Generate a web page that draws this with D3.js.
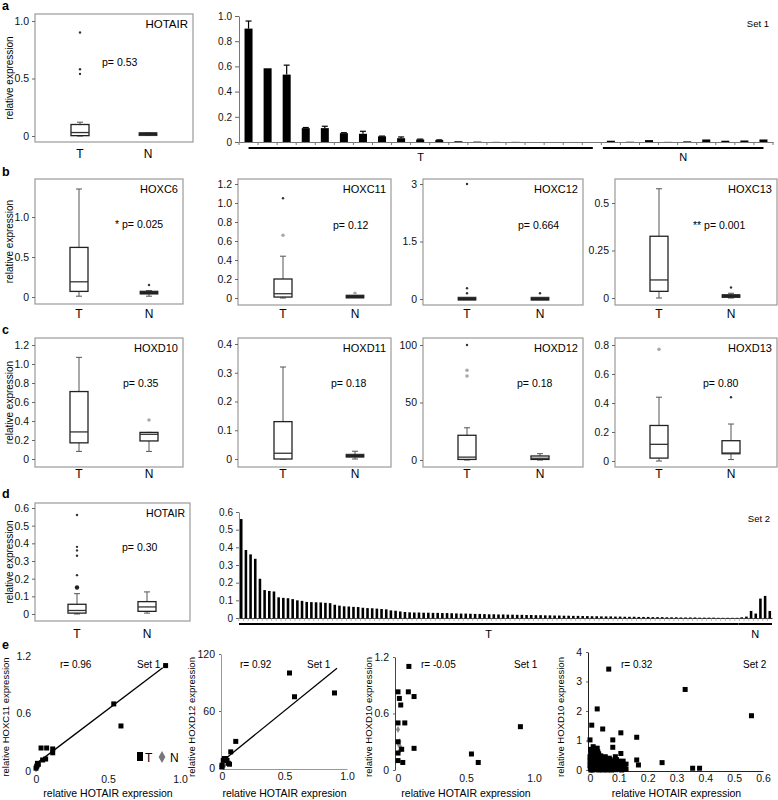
<!DOCTYPE html>
<html><head><meta charset="utf-8">
<script src="https://cdn.jsdelivr.net/npm/d3@7"></script>
<style>body{margin:0;background:#fff}svg{display:block}</style>
</head><body>
<svg id="c" width="778" height="800"></svg>
<script>
// ================= DATA =================
const groups = ["T", "N"];
const boxGenes = ["HOTAIR","HOXC6","HOXC11","HOXC12","HOXC13","HOXD10","HOXD11","HOXD12","HOXD13","HOTAIR"];
const boxP = ["p= 0.53","* p= 0.025","p= 0.12","p= 0.664","** p= 0.001","p= 0.35","p= 0.18","p= 0.18","p= 0.80","p= 0.30"];
// [min, q1, median, q3, max]
const boxStatsT = [[0,0.003,0.03,0.1,0.12],[0.01,0.07,0.19,0.62,1.35],[0,0.01,0.045,0.2,0.44],[0,0.003,0.008,0.014,0.02],[0,0.035,0.095,0.325,0.575],[0.08,0.17,0.285,0.71,1.07],[0,0,0.02,0.13,0.32],[0,0.5,2.5,21.5,28],[0,0.02,0.115,0.245,0.44],[0,0.005,0.02,0.055,0.115]];
const boxStatsN = [[0.008,0.012,0.015,0.02,0.025],[0.01,0.04,0.05,0.07,0.08],[0.005,0.01,0.015,0.02,0.025],[0,0.003,0.008,0.012,0.016],[0,0.005,0.01,0.015,0.025],[0.08,0.19,0.26,0.28,0.28],[0,0.008,0.012,0.015,0.027],[0,0.5,1.5,3.5,5.5],[0.01,0.05,0.055,0.14,0.255],[0.005,0.015,0.04,0.07,0.125]];
// outliers: [value, type]  "*" extreme, "o" mild
const outliersT = [[[0.9,"*"],[0.58,"*"],[0.54,"*"]],[],[[0.66,"o"],[1.05,"*"]],[[3,"*"],[0.28,"*"],[0.15,"*"]],[],[],[],[[100,"*"],[78,"o"],[73,"o"]],[[0.77,"o"]],[[0.56,"*"],[0.38,"*"],[0.36,"*"],[0.33,"*"],[0.22,"*"],[0.15,"O"]]];
const outliersN = [[],[[0.15,"*"]],[[0.05,"o"]],[[0.15,"*"]],[[0.055,"*"]],[[0.41,"o"]],[],[],[[0.44,"*"]],[]];
const boxTicks = [[0,0.5,1],[0,0.5,1],[0,0.2,0.4,0.6,0.8,1,1.2],[0,1.5,3],[0,0.25,0.5],[0,0.2,0.4,0.6,0.8,1,1.2],[0,0.1,0.2,0.3,0.4],[0,50,100],[0,0.2,0.4,0.6,0.8],[0,0.1,0.2,0.3,0.4,0.5,0.6]];
const boxTickLabels = [["0","0.5","1.0"],["0","0.5","1.0"],["0","0.2","0.4","0.6","0.8","1.0","1.2"],["0","1.5","3"],["0","0.25","0.5"],["0","0.2","0.4","0.6","0.8","1.0","1.2"],["0","0.1","0.2","0.3","0.4"],["0","50","100"],["0","0.2","0.4","0.6","0.8"],["0","0.1","0.2","0.3","0.4","0.5","0.6"]];

// Set 1 bar chart (panel a)
const set1T = [0.9,0.585,0.535,0.11,0.11,0.07,0.065,0.045,0.03,0.02,0.015,0.006,0.003,0.001,0.001,0,0,0,0];
const set1TErr = [0.06,0,0.075,0.005,0.015,0.004,0.02,0.002,0.01,0.003,0.002,0,0,0,0,0,0,0,0];
const set1N = [0.01,0.002,0.015,0.001,0.005,0.02,0.01,0.012,0.02];
const set1Ticks = [0,0.2,0.4,0.6,0.8,1.0];
const set1TickLabels = ["0","0.2","0.4","0.6","0.8","1.0"];

// Set 2 bar chart (panel d)
const set2T = [0.56,0.385,0.36,0.335,0.222,0.158,0.153,0.15,0.117,0.114,0.112,0.107,0.1,0.097,0.091,0.09,0.089,0.088,0.086,0.084,0.075,0.07,0.066,0.065,0.063,0.062,0.058,0.056,0.055,0.053,0.051,0.049,0.043,0.041,0.037,0.034,
0.032,0.031,0.031,0.03,0.03,0.029,0.029,0.028,0.028,0.027,0.026,0.025,
0.025,0.024,0.023,0.023,0.022,0.021,0.021,0.02,0.02,0.019,0.019,0.018,
0.018,0.017,0.017,0.016,0.016,0.015,0.015,0.014,0.014,0.013,0.013,0.012,0.012,0.011,0.011,
0.01,0.01,0.009,0.009,0.009,0.008,0.008,0.007,0.007,0.007,0.006,0.006,0.006,0.005,0.005,
0.005,0.004,0.004,0.004,0.003,0.003,0.003,0.003,0.002,0.002,
0.002,0.002,0.001,0.001,0.001,0.001,0.001];
const set2N = [0.004,0.008,0.04,0.025,0.11,0.125,0.04];
const set2Ticks = [0,0.1,0.2,0.3,0.4,0.5,0.6];

// Scatter panels (e)
const sc1Tx = [0.9,0.54,0.59,0.035,0.074,0.116,0.116,0.067,0.046,0.016,0.005,0,0.01];
const sc1Ty = [1.10,0.70,0.47,0.24,0.24,0.23,0.19,0.125,0.115,0.07,0.05,0.03,0.08];
const sc1Nx = [0.01,0.02,0,0.015,0.005];
const sc1Ny = [0.04,0.06,0.02,0.05,0.03];
const sc2Tx = [0.9,0.58,0.54,0.11,0.07,0.06,0,0.01,0.02,0.03,0.04,0.05,0.0];
const sc2Ty = [79,75,100,28,17,4,3,8,10,10,8,5,1];
const sc2Nx = [0.01,0.02];
const sc2Ny = [2,3];
const sc3Tx = [0.08,0.0,0.076,0.01,0.118,0.02,0.0,0.05,0.9,0.0,0.118,0.027,0.54,0.59,0.0,0.035,0.0];
const sc3Ty = [1.10,0.83,0.83,0.76,0.78,0.69,0.50,0.50,0.46,0.30,0.23,0.22,0.17,0.08,0.10,0.08,0.18];
const sc3Nx = [0.0,0.01,0.015,0.005,0.02,0.01];
const sc3Ny = [0.43,0.3,0.25,0.27,0.22,0.2];
const sc4x = [0.065,0.33,0.56,0.025,0.006,0.044,0,0.107,0.079,0.162,0.079,0.107,0.011,0.025,0.162,0.168,0.25,0.356,0.38,
0.002,0.004,0.006,0.003,0.008,0.01,0.005,0.002,0.001,0.012,0.015,0.018,0.02,0.022,0.014,0.025,0.028,0.03,0.032,0.035,0.038,0.04,0.042,0.045,0.048,0.05,0.052,0.055,0.058,0.06,0.062,0.065,0.068,0.07,0.072,0.075,0.078,0.08,0.083,0.085,0.088,0.09,0.092,0.095,0.098,0.1,0.102,0.105,0.11,0.112,0.115,0.12,0.125,0.008,0.016,0.02,0,0,0,0.003,0.01,0.02,0.03,0.045,0.06,0.075,0.09,0.11,0.125,0.013,0.027,0.037,0.053,0.067];
const sc4y = [3.42,2.73,1.84,2.07,1.52,1.39,1.02,1.26,1.02,1.11,0.77,0.56,0.79,0.74,0.34,0.17,0.25,0.06,0.06,
0.7,0.6,0.5,0.42,0.35,0.28,0.2,0.12,0.05,0.6,0.45,0.3,0.15,0.05,0.1,0.4,0.25,0.55,0.1,0.35,0.2,0.05,0.42,0.3,0.15,0.38,0.22,0.08,0.3,0.18,0.05,0.28,0.12,0.35,0.06,0.2,0.1,0.3,0.15,0.05,0.45,0.25,0.35,0.1,0.2,0.3,0.05,0.18,0.25,0.1,0.3,0.15,0.2,0.65,0.72,0.55,0.3,0.15,0.45,0,0,0.02,0,0,0,0,0.01,0,0.02,0.25,0.62,0.48,0.45,0.4];

// ================= DRAWING =================
const FONT = '"Liberation Sans", Arial, Helvetica, sans-serif';
const svg = d3.select("#c");
function txt(g, x, y, s, size, anchor, extra){
  const t = g.append("text").attr("x", x).attr("y", y).text(s)
    .attr("font-family", FONT).attr("font-size", size).attr("fill", "#000")
    .attr("text-anchor", anchor || "start");
  if (extra) extra(t);
  return t;
}
function styleAxis(axg, size){
  axg.attr("font-family", FONT);
  axg.selectAll("text").attr("font-family", FONT).attr("font-size", size || 10.5).attr("fill", "#111");
  axg.selectAll(".tick line").attr("stroke", "#666");
}

// Panel letters
[["a",10],["b",176],["c",334],["d",498],["e",649]].forEach(([l,y]) =>
  txt(svg, 2, y, l, 12.5, "start", t => t.attr("font-weight","bold")));

// ---- Box plots ----
const boxLayout = [
  {x0:35,x1:193,y0:14,y1:142, z:136, top:21,  tx:80, nx:148, px:102, py:66,  lab:158, ylab:true, gs:11.5},
  {x0:35,x1:183,y0:179,y1:304,z:297, top:217, tx:79, nx:149, px:115, py:228, lab:318, ylab:true, gs:11},
  {x0:238,x1:391,y0:179,y1:305,z:298,top:184, tx:283,nx:355, px:333, py:229, lab:318, gs:11},
  {x0:423,x1:583,y0:179,y1:305,z:299,top:184, tx:467,nx:540, px:518, py:229, lab:318, gs:11},
  {x0:615,x1:777,y0:179,y1:305,z:298,top:203, tx:659,nx:731, px:693, py:229, lab:318, gs:11},
  {x0:35,x1:183,y0:338,y1:467,z:459, top:345, tx:79, nx:149, px:123, py:387, lab:478, ylab:true, gs:11},
  {x0:238,x1:391,y0:338,y1:467,z:459,top:344, tx:283,nx:355, px:331, py:387, lab:478, gs:11},
  {x0:423,x1:583,y0:338,y1:467,z:460,top:345, tx:467,nx:540, px:517, py:387, lab:478, gs:11},
  {x0:615,x1:777,y0:338,y1:467,z:461,top:345, tx:659,nx:731, px:703, py:387, lab:478, gs:11},
  {x0:35,x1:190,y0:503,y1:621,z:614, top:508, tx:77, nx:147, px:122, py:551, lab:638, ylab:true, gs:10.5}
];

function drawBox(g, cx, s, y, bw){
  const [mn,q1,md,q3,mx] = s;
  const cap = 3;
  g.append("line").attr("x1",cx).attr("x2",cx).attr("y1",y(q3)).attr("y2",y(mx)).attr("stroke","#555").attr("stroke-width",1);
  g.append("line").attr("x1",cx).attr("x2",cx).attr("y1",y(q1)).attr("y2",y(mn)).attr("stroke","#555").attr("stroke-width",1);
  g.append("line").attr("x1",cx-cap).attr("x2",cx+cap).attr("y1",y(mx)).attr("y2",y(mx)).attr("stroke","#555");
  g.append("line").attr("x1",cx-cap).attr("x2",cx+cap).attr("y1",y(mn)).attr("y2",y(mn)).attr("stroke","#555");
  const h = y(q1) - y(q3);
  if (h < 3) {
    g.append("rect").attr("x",cx-bw/2).attr("y",(y(q1)+y(q3))/2-1.5).attr("width",bw).attr("height",3)
      .attr("fill","#222").attr("stroke","#222").attr("stroke-width",0.8);
  } else {
    g.append("rect").attr("x",cx-bw/2).attr("y",y(q3)).attr("width",bw).attr("height",h)
      .attr("fill","#fff").attr("stroke","#222").attr("stroke-width",1.3);
    g.append("line").attr("x1",cx-bw/2).attr("x2",cx+bw/2).attr("y1",y(md)).attr("y2",y(md))
      .attr("stroke","#333").attr("stroke-width",1.3);
  }
}
function drawOutliers(g, cx, list, y){
  list.forEach(([v,t]) => {
    if (t === "o") g.append("circle").attr("cx",cx).attr("cy",y(v)).attr("r",1.8).attr("fill","#aaa");
    else if (t === "O") g.append("circle").attr("cx",cx).attr("cy",y(v)).attr("r",2.2).attr("fill","#222");
    else g.append("circle").attr("cx",cx).attr("cy",y(v)).attr("r",1.2).attr("fill","#333");
  });
}

boxLayout.forEach((L, i) => {
  const g = svg.append("g");
  const ticks = boxTicks[i];
  const y = d3.scaleLinear().domain([0, ticks[ticks.length-1]]).range([L.z, L.top]);
  const x = d3.scalePoint().domain(groups).range([L.tx, L.nx]);
  g.append("rect").attr("x",L.x0).attr("y",L.y0).attr("width",L.x1-L.x0).attr("height",L.y1-L.y0)
    .attr("fill","none").attr("stroke","#9a9a9a").attr("stroke-width",1.2);
  const axg = g.append("g").attr("transform",`translate(${L.x0},0)`)
    .call(d3.axisLeft(y).tickValues(ticks).tickFormat((d,k)=>boxTickLabels[i][k]).tickSize(3).tickPadding(3));
  axg.select(".domain").remove();
  styleAxis(axg, 10.5);
  drawBox(g, x("T"), boxStatsT[i], y, 18);
  drawBox(g, x("N"), boxStatsN[i], y, 18);
  drawOutliers(g, x("T"), outliersT[i], y);
  drawOutliers(g, x("N"), outliersN[i], y);
  groups.forEach(c => txt(g, x(c), L.lab, c, 12, "middle"));
  txt(g, L.x1-5, L.y0+14, boxGenes[i], L.gs, "end");
  txt(g, L.px, L.py, boxP[i], 10.5, "start");
  if (L.ylab) {
    txt(g, 0, 0, "relative expression", 10, "middle",
      t => t.attr("transform",`translate(13,${(L.y0+L.y1)/2}) rotate(-90)`));
  }
});

// ---- Panel a bar chart (Set 1) ----
(function(){
  const g = svg.append("g");
  const ids = set1T.map((_,k)=>"T"+(k+1)).concat(set1N.map((_,k)=>"N"+(k+1)));
  const vals = set1T.concat(set1N);
  const errs = set1TErr.concat(set1N.map(()=>0));
  const x = d3.scaleBand().domain(ids).range([239,773]).paddingInner(0.58).paddingOuter(0.29);
  const y = d3.scaleLinear().domain([0,1]).range([142,16]);
  const axg = g.append("g").attr("transform","translate(239,0)")
    .call(d3.axisLeft(y).tickValues(set1Ticks).tickFormat((d,k)=>set1TickLabels[k]).tickSize(4).tickPadding(3).tickSizeOuter(0));
  axg.select(".domain").attr("stroke","#777");
  styleAxis(axg, 10);
  const xa = g.append("g").attr("transform","translate(0,142)")
    .call(d3.axisBottom(x).tickSize(0).tickFormat(""));
  xa.select(".domain").attr("stroke","#777");
  const step = x.step();
  ids.forEach((id,k) => {
    const bx = x(id) - step*x.paddingInner()/2 + step;
    g.append("line").attr("x1",bx).attr("x2",bx).attr("y1",142).attr("y2",145).attr("stroke","#777");
  });
  g.append("line").attr("x1",239).attr("x2",239).attr("y1",142).attr("y2",145).attr("stroke","#777");
  ids.forEach((id,k) => {
    const bw = x.bandwidth();
    const v = vals[k];
    g.append("rect").attr("x",x(id)).attr("y",y(v)).attr("width",bw).attr("height",y(0)-y(v)).attr("fill","#000");
    if (errs[k] > 0) {
      const cx = x(id)+bw/2;
      g.append("line").attr("x1",cx).attr("x2",cx).attr("y1",y(v)).attr("y2",y(v+errs[k])).attr("stroke","#000").attr("stroke-width",1.2);
      g.append("line").attr("x1",cx-3).attr("x2",cx+3).attr("y1",y(v+errs[k])).attr("y2",y(v+errs[k])).attr("stroke","#000").attr("stroke-width",1.2);
    }
  });
  const bw = x.bandwidth();
  const t0 = x("T1")+bw/2, t1 = x("T"+set1T.length)+bw/2+1;
  const n0 = x("N1")+bw/2-8, n1 = x("N"+set1N.length)+bw/2;
  g.append("line").attr("x1",t0).attr("x2",t1).attr("y1",148).attr("y2",148).attr("stroke","#000").attr("stroke-width",2);
  g.append("line").attr("x1",n0).attr("x2",n1).attr("y1",148).attr("y2",148).attr("stroke","#000").attr("stroke-width",2);
  txt(g, (t0+t1)/2, 161, "T", 11, "middle");
  txt(g, (n0+n1)/2, 161, "N", 11, "middle");
  txt(g, 769, 27, "Set 1", 9.5, "end");
})();

// ---- Panel d bar chart (Set 2) ----
(function(){
  const g = svg.append("g");
  const ids = set2T.map((_,k)=>"T"+(k+1)).concat(set2N.map((_,k)=>"N"+(k+1)));
  const vals = set2T.concat(set2N);
  const x = d3.scaleBand().domain(ids).range([239,772]).paddingInner(0.45).paddingOuter(0.2);
  const y = d3.scaleLinear().domain([0,0.6]).range([618,512]);
  const axg = g.append("g").attr("transform","translate(239,0)")
    .call(d3.axisLeft(y).tickValues(set2Ticks).tickFormat(d=>d===0?"0":d3.format(".1f")(d)).tickSize(3).tickPadding(3).tickSizeOuter(0));
  axg.select(".domain").attr("stroke","#888");
  styleAxis(axg, 10);
  const xa = g.append("g").attr("transform","translate(0,618)").call(d3.axisBottom(x).tickSize(0).tickFormat(""));
  xa.select(".domain").attr("stroke","#333");
  const step = x.step();
  ids.forEach((id,k) => {
    const bx = x(id) - step*x.paddingInner()/2;
    g.append("line").attr("x1",bx).attr("x2",bx).attr("y1",618).attr("y2",621).attr("stroke","#999").attr("stroke-width",0.7);
  });
  const bw = x.bandwidth();
  ids.forEach((id,k) => {
    g.append("rect").attr("x",x(id)).attr("y",y(vals[k])).attr("width",bw).attr("height",y(0)-y(vals[k])).attr("fill","#000");
  });
  const t0 = 239, t1 = x("T"+set2T.length)+bw;
  const n0 = x("N1")-2, n1 = 772;
  g.append("line").attr("x1",t0).attr("x2",t1).attr("y1",624).attr("y2",624).attr("stroke","#000").attr("stroke-width",2.2);
  g.append("line").attr("x1",n0).attr("x2",n1).attr("y1",624).attr("y2",624).attr("stroke","#000").attr("stroke-width",2.2);
  txt(g, (t0+t1)/2, 638, "T", 11, "middle");
  txt(g, (n0+n1)/2, 638, "N", 11, "middle");
  txt(g, 770, 522, "Set 2", 9.5, "end");
})();

// ---- Scatter plots (panel e) ----
const scLayout = [
  {xr:[36,180], xd:[0,1], yr:[771,656], yd:[0,1.2], yt:[0,0.6,1.2], ytl:["0","0.6","1.2"], xt:[0,0.5,1], xtl:["0","0.5","1.0"],
   yaxX:34, yDomain:false, xDomain:false, ylabX:9, ytitle:"relative HOXC11 expression", xtitle:"relative HOTAIR expression",
   r:"r= 0.96", rx:60, set:"Set 1", sx:137, line:[[0.02,0.098],[0.88,1.078]]},
  {xr:[222,347], xd:[0,1], yr:[768,654], yd:[0,120], yt:[0,60,120], ytl:["0","60","120"], xt:[0,0.5,1], xtl:["0","0.5","1.0"],
   yaxX:221, yDomain:"#999", xDomain:"#999", ylabX:195, ytitle:"relative HOXD12 expression", xtitle:"relative HOTAIR expresion",
   r:"r= 0.92", rx:240, set:"Set 1", sx:307, line:[[0.01,8],[0.92,105]]},
  {xr:[398,534], xd:[0,1], yr:[770,657], yd:[0,1.2], yt:[0,0.6,1.2], ytl:["0","0.6","1.2"], xt:[0,0.5,1], xtl:["0","0.5","1.0"],
   yaxX:395, yDomain:"#444", xDomain:false, ylabX:372, ytitle:"relative HOXD10 expression", xtitle:"relative HOTAIR expression",
   r:"r= -0.05", rx:421, set:"Set 1", sx:514},
  {xr:[590,763], xd:[0,0.6], yr:[770,652], yd:[0,4], yt:[0,1,2,3,4], ytl:["0","1","2","3","4"], xt:[0,0.1,0.2,0.3,0.4,0.5,0.6], xtl:["0","0.1","0.2","0.3","0.4","0.5","0.6"],
   yaxX:588, yDomain:"#222", xDomain:"#222", ylabX:564, ytitle:"relative HOXD10 expression", xtitle:"relative HOTAIR expression",
   r:"r= 0.32", rx:621, set:"Set 2", sx:743}
];
const scT = [[sc1Tx,sc1Ty],[sc2Tx,sc2Ty],[sc3Tx,sc3Ty],[sc4x,sc4y]];
const scN = [[sc1Nx,sc1Ny],[sc2Nx,sc2Ny],[sc3Nx,sc3Ny],[[],[]]];

scLayout.forEach((L,i) => {
  const g = svg.append("g");
  const x = d3.scaleLinear().domain(L.xd).range(L.xr);
  const y = d3.scaleLinear().domain(L.yd).range(L.yr);
  const ya = g.append("g").attr("transform",`translate(${L.yaxX},0)`)
    .call(d3.axisLeft(y).tickValues(L.yt).tickFormat((d,k)=>L.ytl[k]).tickSize(i===0?0:2).tickPadding(i===0?3:4).tickSizeOuter(0));
  if (L.yDomain) ya.select(".domain").attr("stroke",L.yDomain); else ya.select(".domain").remove();
  styleAxis(ya, 10.5);
  const xa = g.append("g").attr("transform",`translate(0,${L.yr[0]+1})`)
    .call(d3.axisBottom(x).tickValues(L.xt).tickFormat((d,k)=>L.xtl[k]).tickSize(0).tickPadding(4).tickSizeOuter(0));
  if (L.xDomain) xa.select(".domain").attr("stroke",L.xDomain); else xa.select(".domain").remove();
  styleAxis(xa, 10.5);
  if (L.line) {
    g.append("line").attr("x1",x(L.line[0][0])).attr("y1",y(L.line[0][1]))
      .attr("x2",x(L.line[1][0])).attr("y2",y(L.line[1][1])).attr("stroke","#000").attr("stroke-width",1.3);
  }
  const [nx,ny] = scN[i];
  nx.forEach((v,k) => {
    g.append("path").attr("d", d3.symbol(d3.symbolDiamond, 14)())
      .attr("transform",`translate(${x(v)},${y(ny[k])})`).attr("fill","#888");
  });
  const [tx,ty] = scT[i];
  const sz = 5;
  tx.forEach((v,k) => {
    g.append("rect").attr("x",x(v)-sz/2).attr("y",y(ty[k])-sz/2).attr("width",sz).attr("height",sz).attr("fill","#000");
  });
  txt(g, L.rx, 668, L.r, 10, "start");
  txt(g, L.sx, 668, L.set, 10, "start");
  txt(g, (L.xr[0]+L.xr[1])/2, 797, L.xtitle, 10.5, "middle");
  txt(g, 0, 0, L.ytitle, 9.5, "middle", t => t.attr("transform",`translate(${L.ylabX},717) rotate(-90)`));
});

// legend in first scatter
(function(){
  const g = svg.append("g");
  g.append("rect").attr("x",137).attr("y",752).attr("width",6).attr("height",9).attr("fill","#000");
  txt(g, 145, 762, "T", 12, "start");
  g.append("path").attr("d", d3.symbol(d3.symbolDiamond, 40)()).attr("transform","translate(162,757)").attr("fill","#777");
  txt(g, 170, 762, "N", 12, "start");
})();
</script>
</body></html>
